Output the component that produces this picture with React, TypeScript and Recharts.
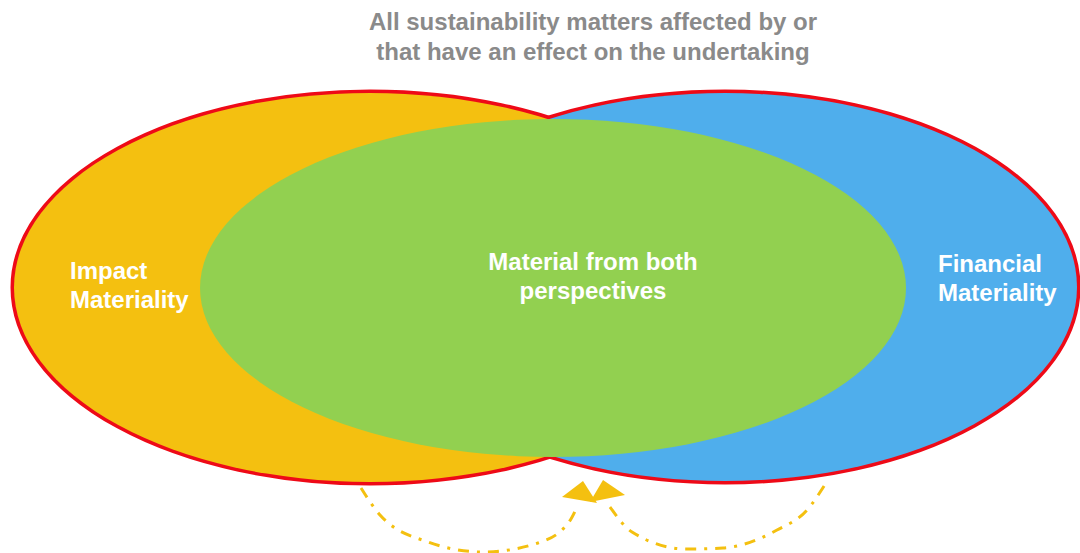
import { ComposedChart, Line, Scatter, XAxis, YAxis } from "recharts"

const W = 1080
const H = 553

// plot units: x 0..1080 left to right, y 0..553 top to bottom
const X_DOMAIN = [0, 1080]
const Y_DOMAIN = [0, 553]

const regions = ["Impact Materiality", "Financial Materiality", "Material from both perspectives"]
const regionX = [370, 725, 553]
const regionY = [287.5, 287, 288]
const regionRx = [356, 352, 353]
const regionRy = [194.5, 194, 169]

const labelLines = [
  ["Impact", "Materiality"],
  ["Material from both", "perspectives"],
  ["Financial", "Materiality"],
]
const labelX = [70, 593, 938]
const labelY = [279, 270, 272]

const titleLines = [
  "All sustainability matters affected by or",
  "that have an effect on the undertaking",
]
const titleX = 593
const titleY = 30

// dash-dot arrows under the diagram
const leftArrowX = [361, 380, 428, 483, 538, 569, 577]
const leftArrowY = [488, 515, 542, 552, 543, 522, 507]
const rightArrowX = [610, 632, 686, 723, 777, 807, 826]
const rightArrowY = [507, 532, 549, 548, 530, 510, 483]
const arrowHeadX = [581, 606]
const arrowHeadY = [494, 492]

const FILLS = ["#F4C010", "#4FAEEC", "#92D050"]
const RED = "#EE0A17"
const ARROW = "#F4C010"
const FONT = "'Liberation Sans', Arial, sans-serif"

const kx = W / (X_DOMAIN[1] - X_DOMAIN[0])
const ky = H / (Y_DOMAIN[1] - Y_DOMAIN[0])

const regionData = regions.map((name, i) => ({
  name,
  i,
  x: regionX[i],
  y: regionY[i],
  rx: regionRx[i],
  ry: regionRy[i],
}))
const outerData = regionData.slice(0, 2)

const labelData = labelLines.map((lines, i) => ({ i, lines, x: labelX[i], y: labelY[i] }))
const titleData = [{ lines: titleLines, x: titleX, y: titleY }]

const leftArrow = leftArrowX.map((x, i) => ({ x, y: leftArrowY[i] }))
const rightArrow = rightArrowX.map((x, i) => ({ x, y: rightArrowY[i] }))
const heads = arrowHeadX.map((x, i) => ({ i, x, y: arrowHeadY[i] }))

const outlineShape = (props: any) => {
  const { cx, cy, payload } = props
  return (
    <ellipse
      cx={cx}
      cy={cy}
      rx={payload.rx * kx}
      ry={payload.ry * ky}
      fill="none"
      stroke={RED}
      strokeWidth={7}
    />
  )
}

const fillShape = (props: any) => {
  const { cx, cy, payload } = props
  return (
    <ellipse
      cx={cx}
      cy={cy}
      rx={payload.rx * kx}
      ry={payload.ry * ky}
      fill={FILLS[payload.i]}
    />
  )
}

const labelShape = (props: any) => {
  const { cx, cy, payload } = props
  const anchor = payload.i === 1 ? "middle" : "start"
  return (
    <text
      x={cx}
      y={cy}
      textAnchor={anchor}
      fill="#ffffff"
      fontFamily={FONT}
      fontWeight="bold"
      fontSize={24}
    >
      {payload.lines.map((l: string, j: number) => (
        <tspan key={j} x={cx} dy={j === 0 ? 0 : 29}>
          {l}
        </tspan>
      ))}
    </text>
  )
}

const titleShape = (props: any) => {
  const { cx, cy, payload } = props
  return (
    <text
      x={cx}
      y={cy}
      textAnchor="middle"
      fill="#8A8A8A"
      fontFamily={FONT}
      fontWeight="bold"
      fontSize={24}
    >
      {payload.lines.map((l: string, j: number) => (
        <tspan key={j} x={cx} dy={j === 0 ? 0 : 30}>
          {l}
        </tspan>
      ))}
    </text>
  )
}

const headShape = (props: any) => {
  const { cx, cy, payload } = props
  const pts =
    payload.i === 0
      ? [[-19, 3], [2, -13], [16, 9]]
      : [[-3, -12], [19, 3], [-16, 10]]
  return (
    <polygon
      points={pts.map(([dx, dy]) => `${cx + dx},${cy + dy}`).join(" ")}
      fill={ARROW}
    />
  )
}

export default function App() {
  return (
    <div style={{ position: "absolute", left: 0, top: 0, width: W, height: H, background: "#fff" }}>
      <ComposedChart width={W} height={H} margin={{ top: 0, right: 0, bottom: 0, left: 0 }}>
        <XAxis type="number" dataKey="x" domain={X_DOMAIN} hide allowDataOverflow />
        <YAxis type="number" dataKey="y" domain={Y_DOMAIN} reversed hide allowDataOverflow />

        <Scatter data={outerData} shape={outlineShape} isAnimationActive={false} />
        <Scatter data={regionData} shape={fillShape} isAnimationActive={false} />

        <Line
          data={leftArrow}
          dataKey="y"
          type="monotoneX"
          stroke={ARROW}
          strokeWidth={3}
          strokeDasharray="11 8 3 8"
          dot={false}
          isAnimationActive={false}
        />
        <Line
          data={rightArrow}
          dataKey="y"
          type="monotoneX"
          stroke={ARROW}
          strokeWidth={3}
          strokeDasharray="11 8 3 8"
          dot={false}
          isAnimationActive={false}
        />
        <Scatter data={heads} shape={headShape} isAnimationActive={false} />

        <Scatter data={labelData} shape={labelShape} isAnimationActive={false} />
        <Scatter data={titleData} shape={titleShape} isAnimationActive={false} />
      </ComposedChart>
    </div>
  )
}
